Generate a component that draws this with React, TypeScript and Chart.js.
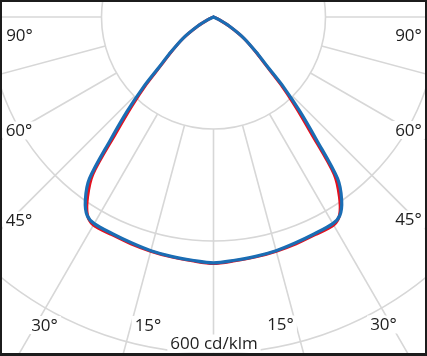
import React, { useEffect, useRef } from "react";
import { Chart, registerables } from "chart.js";

Chart.register(...registerables);

// Gamma angles (degrees from nadir), symmetric curve
const gammaDeg = [0, 5, 10, 15, 20, 25, 30, 32.5, 35, 37.5, 40, 42.5, 45, 47.5, 50, 55, 60, 65, 70];
// Luminous intensity, cd/klm
const planeC90 = [439, 436, 434, 432, 429, 427, 426, 420, 399, 364, 286, 228, 177, 130, 104, 67, 33, 10, 0];
const planeC0 = [440, 437, 435, 433, 431, 429, 429, 419, 392, 354, 272, 216, 169, 126, 102, 66, 32, 10, 0];

const ringValues = [200, 400, 600];
const spokeStepDeg = 15;
const angleLabels = ["90°", "60°", "45°", "30°", "15°"];
const unitLabel = "600 cd/klm";

const W = 427;
const H = 356;
const CX = 213.5;
const CY = 17;
const PX_PER_UNIT = 112 / 200;

function toPoints(vals: number[]) {
  const pts: { x: number; y: number }[] = [];
  const n = gammaDeg.length;
  for (let i = n - 1; i >= 0; i--) {
    const g = (gammaDeg[i] * Math.PI) / 180;
    pts.push({ x: -vals[i] * Math.sin(g), y: -vals[i] * Math.cos(g) });
  }
  for (let i = 1; i < n; i++) {
    const g = (gammaDeg[i] * Math.PI) / 180;
    pts.push({ x: vals[i] * Math.sin(g), y: -vals[i] * Math.cos(g) });
  }
  return pts;
}

const FONT = '17px "Open Sans", "Noto Sans", sans-serif';

const polarGrid = {
  id: "polarGrid",
  beforeDraw(chart: any) {
    const ctx = chart.ctx;
    ctx.save();
    ctx.fillStyle = "#ffffff";
    ctx.fillRect(0, 0, chart.width, chart.height);
    ctx.restore();
  },
  beforeDatasetsDraw(chart: any) {
    const ctx = chart.ctx;
    const xs = chart.scales.x;
    const ys = chart.scales.y;
    const ox = xs.getPixelForValue(0);
    const oy = ys.getPixelForValue(0);
    const pr = (v: number) => xs.getPixelForValue(v) - ox;
    const area = chart.chartArea;
    ctx.save();
    ctx.beginPath();
    ctx.rect(area.left, area.top, area.right - area.left, area.bottom - area.top);
    ctx.clip();
    ctx.strokeStyle = "#d7d7d7";
    ctx.lineWidth = 1.6;
    ringValues.forEach((v) => {
      ctx.beginPath();
      ctx.arc(ox, oy, pr(v), 0, Math.PI * 2);
      ctx.stroke();
    });
    const r0 = pr(ringValues[0]);
    const r1 = pr(2000);
    for (let a = 0; a < 360; a += spokeStepDeg) {
      const t = (a * Math.PI) / 180;
      ctx.beginPath();
      ctx.moveTo(ox + r0 * Math.sin(t), oy + r0 * Math.cos(t));
      ctx.lineTo(ox + r1 * Math.sin(t), oy + r1 * Math.cos(t));
      ctx.stroke();
    }
    // labels with white backgrounds
    ctx.font = FONT;
    ctx.textAlign = "center";
    ctx.textBaseline = "middle";
    const place: [string, number, number][] = [
      [angleLabels[0], 19.5, 35],
      [angleLabels[0], 408.5, 35],
      [angleLabels[1], 19, 130.5],
      [angleLabels[1], 408.5, 130],
      [angleLabels[2], 19, 220.5],
      [angleLabels[2], 408.5, 219.5],
      [angleLabels[3], 44.5, 325],
      [angleLabels[3], 383.5, 324.5],
      [angleLabels[4], 148, 325],
      [angleLabels[4], 280.5, 324.5],
      [unitLabel, 214, 343.5],
    ];
    place.forEach(([t, x, y]) => {
      const w = ctx.measureText(t).width;
      ctx.fillStyle = "#ffffff";
      ctx.fillRect(x - w / 2 - 3, y - 9, w + 6, 18);
      ctx.fillStyle = "#1e1e1e";
      ctx.fillText(t, x, y + 1);
    });
    ctx.restore();
  },
  afterDraw(chart: any) {
    const ctx = chart.ctx;
    ctx.save();
    ctx.fillStyle = "#1c1c1c";
    ctx.fillRect(0, 0, chart.width, 2);
    ctx.fillRect(0, 0, 2, chart.height);
    ctx.fillRect(chart.width - 2, 0, 2, chart.height);
    ctx.fillRect(0, chart.height - 3, chart.width, 3);
    ctx.restore();
  },
};

export default function App() {
  const ref = useRef<HTMLCanvasElement | null>(null);
  useEffect(() => {
    if (!ref.current) return;
    const chart = new Chart(ref.current, {
      type: "scatter",
      data: {
        datasets: [
          {
            label: "C0 - C180",
            data: toPoints(planeC0),
            showLine: true,
            borderColor: "#e3101e",
            borderWidth: 3,
            pointRadius: 0,
            tension: 0.3,
            fill: false,
            order: 2,
          },
          {
            label: "C90 - C270",
            data: toPoints(planeC90),
            showLine: true,
            borderColor: "#1a6db4",
            borderWidth: 3.2,
            pointRadius: 0,
            tension: 0.3,
            fill: false,
            order: 1,
          },
        ],
      },
      options: {
        animation: false,
        responsive: false,
        maintainAspectRatio: false,
        layout: { padding: 0 },
        elements: { line: { borderJoinStyle: "round", borderCapStyle: "round" } },
        scales: {
          x: {
            type: "linear",
            display: false,
            min: -CX / PX_PER_UNIT,
            max: (W - CX) / PX_PER_UNIT,
          },
          y: {
            type: "linear",
            display: false,
            min: -(H - CY) / PX_PER_UNIT,
            max: CY / PX_PER_UNIT,
          },
        },
        plugins: {
          legend: { display: false },
          tooltip: { enabled: false },
          title: { display: false },
        },
      },
      plugins: [polarGrid],
    });
    return () => chart.destroy();
  }, []);
  return (
    <div style={{ position: "fixed", left: 0, top: 0, width: W, height: H, background: "#fff" }}>
      <canvas ref={ref} width={W} height={H} style={{ display: "block", width: W, height: H }} />
    </div>
  );
}
